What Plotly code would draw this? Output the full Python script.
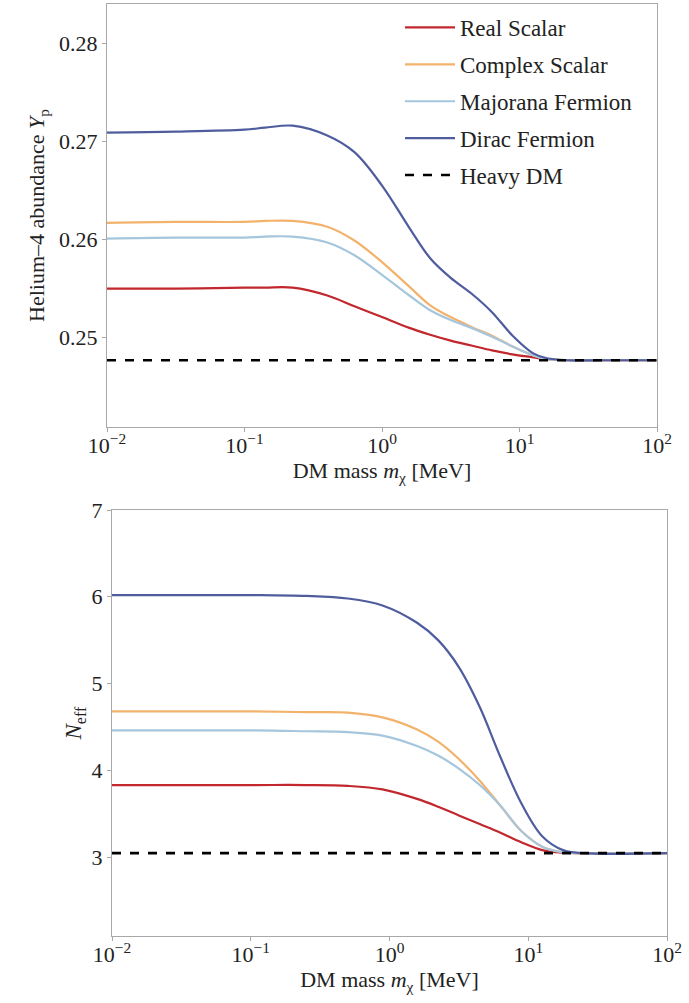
import plotly.graph_objects as go

# ---------------- data ----------------
names = ["Real Scalar", "Complex Scalar", "Majorana Fermion", "Dirac Fermion"]
colors = ["#c1272d", "#f2b26b", "#a5c6dc", "#4f5d9e"]

# top panel: Helium-4 abundance Yp
mass_top = [0.01, 0.0316, 0.1, 0.141, 0.224, 0.4, 0.63, 1.0, 1.58, 2.24, 3.16, 4.47,
            6.31, 8.91, 12.6, 15.8, 22.4, 39.8, 100]
yp_real = [0.2550, 0.2550, 0.2551, 0.2551, 0.2551, 0.2543, 0.2532, 0.2521, 0.2510, 0.2503,
           0.2497, 0.2492, 0.2487, 0.2483, 0.2480, 0.2478, 0.2477, 0.2477, 0.2477]
yp_complex = [0.2617, 0.2618, 0.2618, 0.2619, 0.2619, 0.2613, 0.2599, 0.2577, 0.2552, 0.2533,
              0.2521, 0.2511, 0.2502, 0.2491, 0.2482, 0.2478, 0.2477, 0.2477, 0.2477]
yp_majorana = [0.2601, 0.2602, 0.2602, 0.2603, 0.2603, 0.2597, 0.2584, 0.2564, 0.2543, 0.2528,
               0.2518, 0.2510, 0.2501, 0.2491, 0.2482, 0.2478, 0.2477, 0.2477, 0.2477]
yp_dirac = [0.2709, 0.2710, 0.2712, 0.2714, 0.2716, 0.2706, 0.2689, 0.2655, 0.2612, 0.2581,
            0.2561, 0.2545, 0.2526, 0.2502, 0.2484, 0.2479, 0.2477, 0.2477, 0.2477]
yp_heavy = 0.2477

# bottom panel: Neff
mass_bot = [0.01, 0.1, 0.25, 0.5, 0.89, 1.58, 2.24, 3.16, 4.47, 6.31, 8.91,
            12.6, 17.8, 25.1, 100]
neff_real = [3.83, 3.83, 3.83, 3.82, 3.78, 3.67, 3.58, 3.48, 3.38, 3.28, 3.17,
             3.08, 3.05, 3.045, 3.045]
neff_complex = [4.68, 4.68, 4.67, 4.665, 4.61, 4.47, 4.33, 4.13, 3.88, 3.59, 3.30,
                3.12, 3.055, 3.045, 3.045]
neff_majorana = [4.46, 4.46, 4.45, 4.44, 4.40, 4.28, 4.17, 4.02, 3.83, 3.59, 3.30,
                 3.12, 3.055, 3.045, 3.045]
neff_dirac = [6.02, 6.02, 6.01, 5.98, 5.90, 5.70, 5.50, 5.19, 4.73, 4.15, 3.62,
              3.24, 3.08, 3.045, 3.045]
neff_heavy = 3.045

x_range_mass = [0.01, 100]
x_tickvals = [0.01, 0.1, 1, 10, 100]
x_ticktext = ["10<sup>−2</sup>", "10<sup>−1</sup>", "10<sup>0</sup>",
              "10<sup>1</sup>", "10<sup>2</sup>"]
yp_ticks = [0.25, 0.26, 0.27, 0.28]
neff_ticks = [3, 4, 5, 6, 7]

# ---------------- figure ----------------
W, H = 689, 1003
FONT = "Times New Roman, Liberation Serif, DejaVu Serif, serif"
TXT = "#222222"
fig = go.Figure()

top_series = [yp_real, yp_complex, yp_majorana, yp_dirac]
bot_series = [neff_real, neff_complex, neff_majorana, neff_dirac]

for i, (n, c, ys) in enumerate(zip(names, colors, top_series)):
    fig.add_trace(go.Scatter(x=mass_top, y=ys, mode="lines", name=n,
                             line=dict(color=c, width=2.2, shape="spline", smoothing=1.0),
                             xaxis="x", yaxis="y", legendgroup=f"g{i}"))
fig.add_trace(go.Scatter(x=x_range_mass, y=[yp_heavy, yp_heavy], mode="lines",
                         name="Heavy DM", line=dict(color="black", width=2.6, dash="dash"),
                         xaxis="x", yaxis="y", legendgroup="g4"))

for n, c, ys in zip(names, colors, bot_series):
    fig.add_trace(go.Scatter(x=mass_bot, y=ys, mode="lines", name=n, showlegend=False,
                             line=dict(color=c, width=2.2, shape="spline", smoothing=1.0),
                             xaxis="x2", yaxis="y2"))
fig.add_trace(go.Scatter(x=x_range_mass, y=[neff_heavy, neff_heavy], mode="lines",
                         name="Heavy DM", showlegend=False,
                         line=dict(color="black", width=2.6, dash="dash"),
                         xaxis="x2", yaxis="y2"))

axis_common = dict(showline=True, mirror=True, linecolor="#a8a8a8", linewidth=1,
                   ticks="outside", ticklen=4, tickcolor="#a8a8a8", showgrid=False,
                   zeroline=False, automargin=False,
                   tickfont=dict(family=FONT, size=22, color=TXT))

xcommon = dict(axis_common, type="log", range=[-2, 2], tickvals=x_tickvals,
               ticktext=x_ticktext, ticklabelstandoff=-5)
xtitle = dict(text="DM mass <i>m</i><sub>χ</sub> [MeV]",
              font=dict(family=FONT, size=22, color=TXT), standoff=2)

fig.update_layout(
    width=W, height=H, margin=dict(l=0, r=0, t=0, b=0, autoexpand=False),
    paper_bgcolor="white", plot_bgcolor="white",
    font=dict(family=FONT, size=20, color=TXT),
    xaxis=dict(xcommon, domain=[107 / W, 657 / W], anchor="y", title=xtitle),
    yaxis=dict(axis_common, domain=[1 - 427 / H, 1 - 4 / H], anchor="x",
               range=[0.2409, 0.2840], tickvals=yp_ticks,
               ticktext=["0.25", "0.26", "0.27", "0.28"],
               title=dict(text="Helium–4 abundance <i>Y</i><sub>p</sub>",
                          font=dict(family=FONT, size=22, color=TXT), standoff=8)),
    xaxis2=dict(xcommon, domain=[112 / W, 667 / W], anchor="y2", title=xtitle),
    yaxis2=dict(axis_common, domain=[1 - 936 / H, 1 - 510 / H], anchor="x2",
                range=[2.09, 7.0], tickvals=neff_ticks,
                title=dict(text="<i>N</i><sub>eff</sub>",
                           font=dict(family=FONT, size=23, color=TXT), standoff=3)),
    legend=dict(x=400 / W, y=1 - 6 / H, xanchor="left", yanchor="top",
                bgcolor="rgba(255,255,255,0)", borderwidth=0,
                font=dict(family=FONT, size=23, color=TXT),
                tracegroupgap=4, itemwidth=50),
    showlegend=True,
)

fig.write_html("out.html")
